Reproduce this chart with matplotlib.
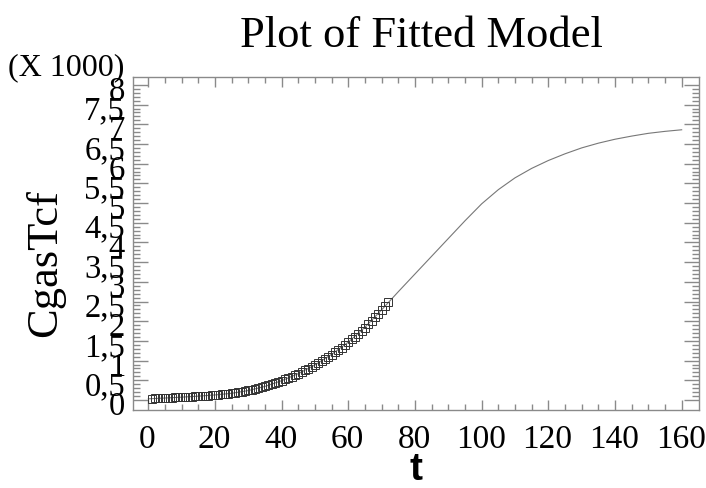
import matplotlib
matplotlib.use("Agg")
import matplotlib.pyplot as plt
import matplotlib.transforms as mtransforms
import numpy as np

# ---- data ----
t_obs = list(range(1, 73))
y_obs = [35, 40, 44, 48, 52, 56, 60, 64, 68, 73,
         77, 82, 87, 92, 97, 102, 108, 114, 120, 127,
         134, 142, 151, 160, 170, 182, 195, 210, 226, 243,
         262, 282, 303, 325, 349, 374, 400, 428, 457, 488,
         522, 556, 592, 630, 670, 711, 754, 798, 843, 890,
         940, 990, 1042, 1096, 1152, 1210, 1270, 1332, 1396, 1467,
         1536, 1607, 1680, 1755, 1835, 1920, 2010, 2100, 2190, 2280,
         2380, 2480]

t_fit = [0, 5, 10, 15, 20, 25, 30, 35, 40, 45, 50, 55, 60, 65, 70, 75, 80,
         85, 90, 95, 100, 105, 110, 115, 120, 125, 130, 135, 140, 145, 150,
         155, 160]
y_fit = [30, 50, 72, 98, 128, 170, 240, 345, 490, 670, 890, 1160, 1470,
         1850, 2290, 2750, 3200, 3650, 4100, 4550, 4980, 5340, 5640, 5880,
         6080, 6250, 6400, 6520, 6620, 6700, 6770, 6820, 6860]

x_major = [0, 20, 40, 60, 80, 100, 120, 140, 160]
y_major = [0, 500, 1000, 1500, 2000, 2500, 3000, 3500, 4000, 4500, 5000,
           5500, 6000, 6500, 7000, 7500, 8000]

title = "Plot of Fitted Model"
xlabel = "t"
ylabel = "CgasTcf"
scale_note = "(X 1000)"

SERIF = ["Liberation Serif", "DejaVu Serif"]
frame_col = "#8a8a8a"


def fmt_y(v):
    s = f"{v/1000:g}"
    return s.replace(".", ",")


fig = plt.figure(figsize=(7.06, 4.88), dpi=100)
W, H = 706, 488
ax = fig.add_axes([133 / W, 1 - 410 / H, (699 - 133) / W, (410 - 77) / H])

ax.plot(t_fit, y_fit, color="#777777", lw=0.8, zorder=2)
ax.plot(t_obs, y_obs, linestyle="none", marker="s", markersize=5.5,
        markerfacecolor="none", markeredgecolor="#333333",
        markeredgewidth=0.7, zorder=3)

ax.set_xlim(-4.6, 165.2)
ax.set_ylim(-254, 8200)

ax.set_xticks(x_major)
ax.set_xticks(np.arange(0, 165, 5), minor=True)
ax.set_yticks(y_major)
ax.set_yticks(np.arange(0, 8100, 100), minor=True)

ax.tick_params(which="both", direction="in", top=True, right=True,
               labelbottom=False, labelleft=False, color=frame_col, width=1)
ax.tick_params(axis="x", which="major", length=7)
ax.tick_params(axis="x", which="minor", length=4)
ax.tick_params(axis="y", which="major", length=11)
ax.tick_params(axis="y", which="minor", length=5)
for sp in ax.spines.values():
    sp.set_color(frame_col)
    sp.set_linewidth(1)

# y tick labels (drawn manually to reproduce the offset placement)
ytr = mtransforms.blended_transform_factory(ax.transAxes, ax.transData)
off_y = mtransforms.ScaledTranslation(-8 / 100, -15 / 100, fig.dpi_scale_trans)
for v in y_major:
    ax.text(0, v, fmt_y(v), transform=ytr + off_y, ha="right", va="baseline",
            fontsize=23.5, family=SERIF, clip_on=False)

# x tick labels
xtr = mtransforms.blended_transform_factory(ax.transData, ax.transAxes)
off_x = mtransforms.ScaledTranslation(-1 / 100, -38 / 100, fig.dpi_scale_trans)
for v in x_major:
    ax.text(v, 0, f"{v}", transform=xtr + off_x, ha="center", va="baseline",
            fontsize=24, family=SERIF, clip_on=False)

fig.text(421 / W, 1 - 36 / H, title, ha="center", va="center",
         fontsize=32, family=SERIF)
fig.text(416 / W, 1 - 470 / H, xlabel, ha="center", va="center",
         fontsize=28, family=["Liberation Sans", "DejaVu Sans"], weight="bold")
fig.text(45 / W, 1 - 263 / H, ylabel, ha="center", va="center",
         rotation=90, fontsize=32, family=SERIF)
fig.text(66 / W, 1 - 68 / H, scale_note, ha="center", va="center",
         fontsize=23, family=SERIF)

fig.savefig("out.png", dpi=100)
